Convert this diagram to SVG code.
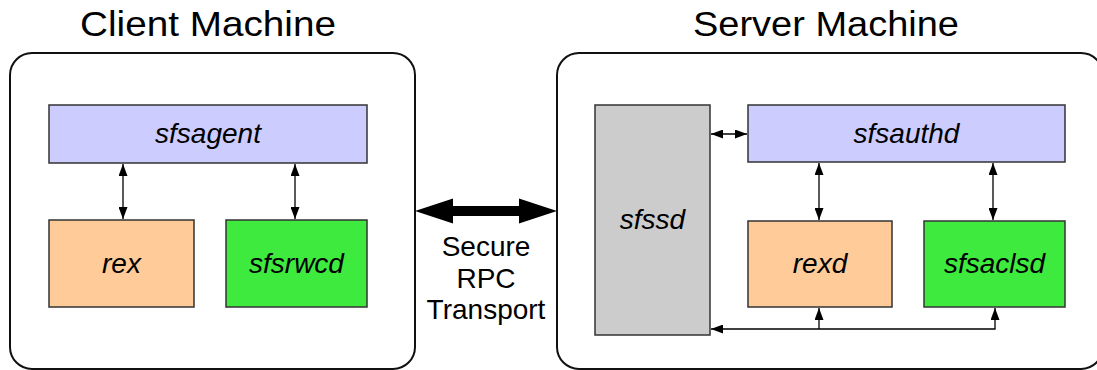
<svg xmlns="http://www.w3.org/2000/svg" width="1097" height="370" viewBox="0 0 1097 370">
  <style>
    .title { font-family: "Liberation Sans", Arial, sans-serif; font-size: 35px; fill: #000; text-anchor: middle; }
    .machine { fill: #fff; stroke: #111; stroke-width: 2; }
    .node { stroke: #333; stroke-width: 1.5; }
    .lbl { font-family: "Liberation Sans", Arial, sans-serif; font-size: 28px; font-style: italic; fill: #000; text-anchor: middle; }
    .rpc { font-family: "Liberation Sans", Arial, sans-serif; font-size: 28px; fill: #000; text-anchor: middle; }
    .purple { fill: #ccccff; }
    .orange { fill: #ffcc99; }
    .green { fill: #3fea3f; }
    .gray { fill: #cccccc; }
    .conn { stroke: #000; stroke-width: 1.3; fill: none; }
  </style>
  <defs>
    <marker id="ah" viewBox="0 0 12 9" refX="12" refY="4.5" markerWidth="12" markerHeight="9" markerUnits="userSpaceOnUse" orient="auto-start-reverse">
      <path d="M0,0 L12,4.5 L0,9 Z" fill="#000"/>
    </marker>
  </defs>

  <rect width="1097" height="370" fill="#fff"/>

  <g id="client-machine">
    <rect class="machine" x="10" y="53" width="405" height="316" rx="22" ry="22"/>
    <text class="title" x="208" y="36" textLength="256" lengthAdjust="spacingAndGlyphs">Client Machine</text>
  </g>
  <g id="server-machine">
    <rect class="machine" x="557" y="53" width="546" height="316" rx="22" ry="22"/>
    <text class="title" x="826" y="36" textLength="266" lengthAdjust="spacingAndGlyphs">Server Machine</text>
  </g>

  <g id="sfsagent">
    <rect class="node purple" x="49" y="105" width="318" height="58"/>
    <text class="lbl" x="208" y="143">sfsagent</text>
  </g>
  <g id="rex">
    <rect class="node orange" x="49" y="220" width="145" height="87"/>
    <text class="lbl" x="121.5" y="273">rex</text>
  </g>
  <g id="sfsrwcd">
    <rect class="node green" x="226" y="220" width="141" height="87"/>
    <text class="lbl" x="296.5" y="273">sfsrwcd</text>
  </g>

  <g id="sfssd">
    <rect class="node gray" x="595" y="105" width="115" height="230"/>
    <text class="lbl" x="652.5" y="229">sfssd</text>
  </g>
  <g id="sfsauthd">
    <rect class="node purple" x="748" y="105" width="317" height="57"/>
    <text class="lbl" x="906.5" y="143">sfsauthd</text>
  </g>
  <g id="rexd">
    <rect class="node orange" x="748" y="221" width="144" height="86"/>
    <text class="lbl" x="820" y="273">rexd</text>
  </g>
  <g id="sfsaclsd">
    <rect class="node green" x="924" y="221" width="141" height="86"/>
    <text class="lbl" x="994.5" y="273">sfsaclsd</text>
  </g>

  <g id="transport-label">
    <text class="rpc" x="486" y="256">Secure</text>
    <text class="rpc" x="486" y="288">RPC</text>
    <text class="rpc" x="486" y="319">Transport</text>
  </g>

  <g id="connectors">
    <polygon points="415,211 453,198.5 453,206 519,206 519,198.5 557,211 519,223.5 519,216 453,216 453,223.5" fill="#000"/>
    <line class="conn" x1="123" y1="164" x2="123" y2="219" marker-start="url(#ah)" marker-end="url(#ah)"/>
    <line class="conn" x1="295" y1="164" x2="295" y2="219" marker-start="url(#ah)" marker-end="url(#ah)"/>
    <line class="conn" x1="711" y1="134" x2="747" y2="134" marker-start="url(#ah)" marker-end="url(#ah)"/>
    <line class="conn" x1="819" y1="163" x2="819" y2="220" marker-start="url(#ah)" marker-end="url(#ah)"/>
    <line class="conn" x1="993" y1="163" x2="993" y2="220" marker-start="url(#ah)" marker-end="url(#ah)"/>
    <path class="conn" d="M995,308 L995,329 L711,329" marker-start="url(#ah)" marker-end="url(#ah)"/>
    <line class="conn" x1="819" y1="329" x2="819" y2="308" marker-end="url(#ah)"/>
  </g>
</svg>
